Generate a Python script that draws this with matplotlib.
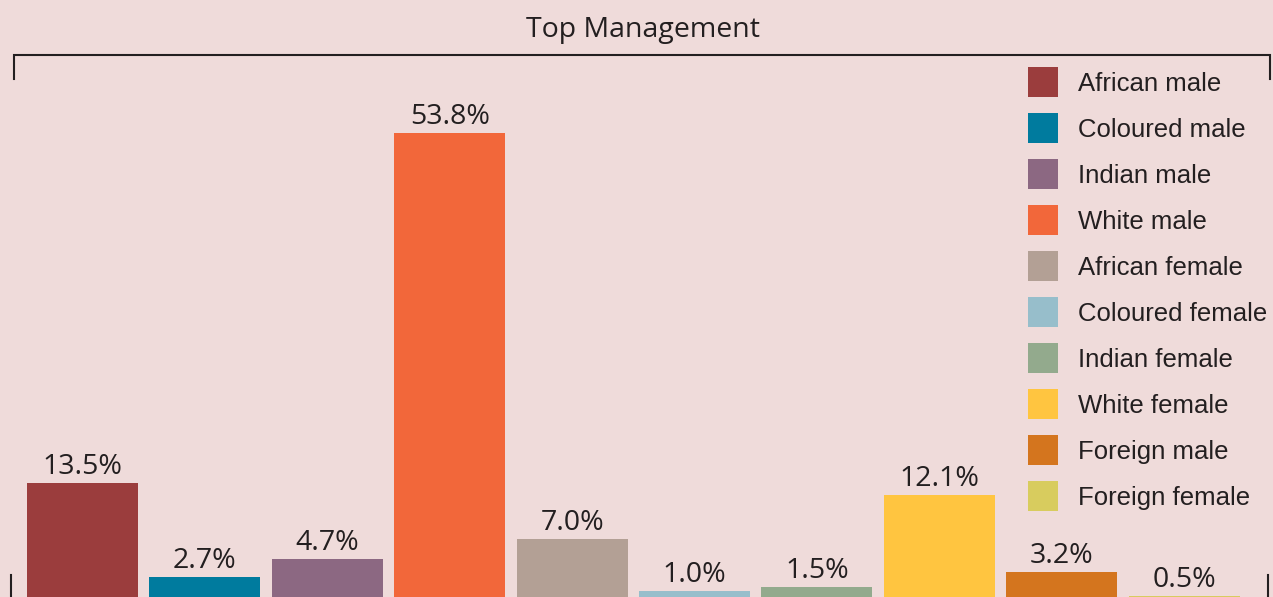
import matplotlib.pyplot as plt
from matplotlib.patches import Patch
import numpy as np

# Data
groups = ["African male", "Coloured male", "Indian male", "White male", "African female",
          "Coloured female", "Indian female", "White female", "Foreign male", "Foreign female"]
shares = [13.5, 2.7, 4.7, 53.8, 7.0, 1.0, 1.5, 12.1, 3.2, 0.5]
colors = ["#9B3D3D", "#007B9E", "#8C6882", "#F2673A", "#B3A095",
          "#97BECB", "#93AA8D", "#FFC540", "#D4751E", "#D8CC5E"]
title = "Top Management"

bg = "#EFDBDA"
ink = "#231F20"
W, H = 1273, 597

fig = plt.figure(figsize=(W / 100, H / 100), dpi=100, facecolor=bg)
ax = fig.add_axes([0, 0, 1, 1])
ax.set_facecolor(bg)

x = np.arange(len(groups))
ax.bar(x, shares, 0.907, color=colors)
ax.set_xlim(-0.674, 9.726)
ax.set_ylim(0.345, 69.08)

for xi, v in zip(x, shares):
    ax.annotate(f"{v:.1f}%", (xi, v), xytext=(0, 6.5), textcoords="offset points",
                ha="center", va="baseline", fontsize=20.5, color=ink, family="Open Sans")

ax.axis("off")

# bracket under the title (pixel positions -> figure fraction)
def fx(px):
    return px / W

def fy(py):
    return 1 - py / H

fig.add_artist(plt.Line2D([fx(14), fx(14), fx(1270), fx(1270)], [fy(79), fy(55), fy(55), fy(79)],
                          color=ink, lw=1.5, solid_joinstyle="miter"))
fig.add_artist(plt.Line2D([fx(11), fx(11)], [fy(575), fy(597)], color=ink, lw=1.5))
fig.add_artist(plt.Line2D([fx(1268), fx(1268)], [fy(575), fy(597)], color=ink, lw=1.5))
fig.text(fx(643), fy(37), title, ha="center", va="baseline", fontsize=20.5, color=ink,
         family="Open Sans")

# legend
fs = 18.5
F = fs * 100 / 72
box = 30
hh = (box / F - 0.245) / 0.65
handles = [Patch(facecolor=c, edgecolor="none", label=g) for g, c in zip(groups, colors)]
leg = fig.legend(handles=handles, loc="upper left", bbox_to_anchor=(fx(1028), fy(67)),
                 frameon=False, borderpad=0, borderaxespad=0,
                 handlelength=box / F, handleheight=hh,
                 labelspacing=(46 - box) / F, handletextpad=20 / F,
                 prop={"family": "Liberation Sans", "size": fs})
for t in leg.get_texts():
    t.set_color(ink)

fig.savefig("out.png", dpi=100, facecolor=bg)
